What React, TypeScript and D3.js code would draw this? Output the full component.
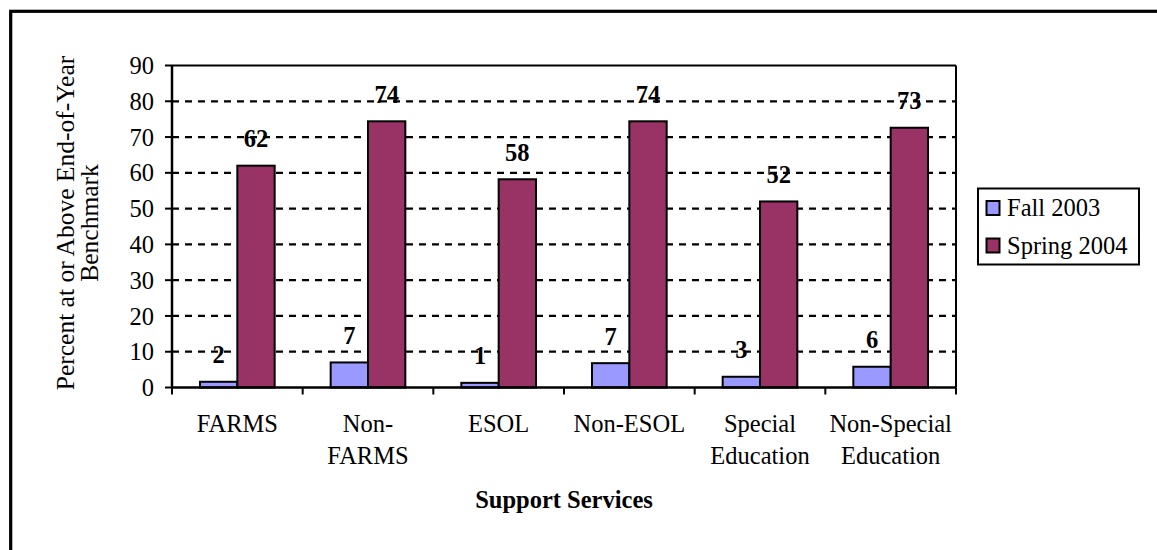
import React from "react";
import * as d3 from "d3";

// Support service groups (two-line category labels)
const categories: string[][] = [
  ["FARMS"],
  ["Non-", "FARMS"],
  ["ESOL"],
  ["Non-ESOL"],
  ["Special", "Education"],
  ["Non-Special", "Education"],
];
const seriesNames = ["Fall 2003", "Spring 2004"];
const fall2003 = [1.6, 7.0, 1.3, 6.8, 3.0, 5.8];
const spring2004 = [62.0, 74.4, 58.2, 74.4, 52.0, 72.6];
const yTicks = [0, 10, 20, 30, 40, 50, 60, 70, 80, 90];
const seriesColors = ["#9999FF", "#993366"];

const W = 1157;
const H = 550;
const plot = { left: 172, right: 956, top: 65.5, bottom: 387.5 };
const FONT = "Liberation Serif, Times New Roman, serif";
const FS = 24.5;

export default function App() {
  const series = [fall2003, spring2004];
  const x = d3
    .scaleBand<number>()
    .domain(d3.range(categories.length))
    .range([plot.left, plot.right]);
  // 150% gap width: the two bars fill 2/3.5 of each slot
  const barW = x.bandwidth() / 3.5;
  const gap = (x.bandwidth() - 2 * barW) / 2;
  const y = d3.scaleLinear().domain([0, 90]).range([plot.bottom, plot.top]);

  return (
    <svg
      width={W}
      height={H}
      style={{ position: "absolute", left: 0, top: 0, background: "#fff", fontFamily: FONT }}
    >
      {/* outer frame */}
      <rect x={10.7} y={11.3} width={1300} height={700} fill="none" stroke="#000" strokeWidth={3.2} />

      {/* dashed gridlines */}
      {yTicks.slice(1, -1).map((t) => (
        <line
          key={"g" + t}
          x1={plot.left}
          x2={plot.right}
          y1={y(t)}
          y2={y(t)}
          stroke="#000"
          strokeWidth={2.3}
          strokeDasharray="7,6"
        />
      ))}

      {/* bars */}
      {series.map((vals, s) =>
        vals.map((v, i) => (
          <rect
            key={`b${s}-${i}`}
            x={(x(i) as number) + gap + s * barW}
            y={y(v)}
            width={barW}
            height={y(0) - y(v)}
            fill={seriesColors[s]}
            stroke="#000"
            strokeWidth={2}
          />
        ))
      )}

      {/* plot frame: top and right edges */}
      <line x1={plot.left} x2={plot.right} y1={plot.top} y2={plot.top} stroke="#000" strokeWidth={2} />
      <line x1={plot.right} x2={plot.right} y1={plot.top} y2={plot.bottom} stroke="#000" strokeWidth={2} />

      {/* y axis */}
      <line x1={plot.left} x2={plot.left} y1={plot.top} y2={plot.bottom} stroke="#000" strokeWidth={2.5} />
      {yTicks.map((t) => (
        <g key={"y" + t}>
          <line x1={plot.left - 7} x2={plot.left} y1={y(t)} y2={y(t)} stroke="#000" strokeWidth={2} />
          <text x={154} y={y(t)} dy="0.35em" textAnchor="end" fontSize={FS}>
            {t}
          </text>
        </g>
      ))}

      {/* x axis */}
      <line x1={plot.left} x2={plot.right} y1={plot.bottom} y2={plot.bottom} stroke="#000" strokeWidth={2.5} />
      {d3.range(categories.length + 1).map((i) => {
        const xx = plot.left + i * x.step();
        return <line key={"xt" + i} x1={xx} x2={xx} y1={plot.bottom} y2={plot.bottom + 7} stroke="#000" strokeWidth={2} />;
      })}
      {categories.map((lines, i) => (
        <text key={"xl" + i} textAnchor="middle" fontSize={FS}>
          {lines.map((ln, k) => (
            <tspan key={k} x={(x(i) as number) + x.bandwidth() / 2} y={432 + k * 31.5}>
              {ln}
            </tspan>
          ))}
        </text>
      ))}

      {/* data labels */}
      {series.map((vals, s) =>
        vals.map((v, i) => (
          <text
            key={`l${s}-${i}`}
            x={(x(i) as number) + gap + s * barW + barW / 2}
            y={y(v) - 18.5}
            textAnchor="middle"
            fontSize={FS}
            fontWeight="bold"
          >
            {Math.round(v)}
          </text>
        ))
      )}

      {/* axis titles */}
      <text
        x={(plot.left + plot.right) / 2}
        y={508}
        textAnchor="middle"
        fontSize={FS}
        fontWeight="bold"
      >
        Support Services
      </text>
      <text transform="translate(0,223) rotate(-90)" textAnchor="middle" fontSize={25.5}>
        <tspan x={0} y={74}>Percent at or Above End-of-Year</tspan>
        <tspan x={0} y={97.5}>Benchmark</tspan>
      </text>

      {/* legend */}
      <rect x={978} y={188.5} width={161} height={76} fill="#fff" stroke="#000" strokeWidth={2} />
      {seriesNames.map((name, s) => (
        <g key={"lg" + s}>
          <rect
            x={986.5}
            y={201 + s * 37.5}
            width={13}
            height={14}
            fill={seriesColors[s]}
            stroke="#000"
            strokeWidth={2}
          />
          <text x={1007} y={216 + s * 37.5} fontSize={FS}>
            {name}
          </text>
        </g>
      ))}
    </svg>
  );
}
